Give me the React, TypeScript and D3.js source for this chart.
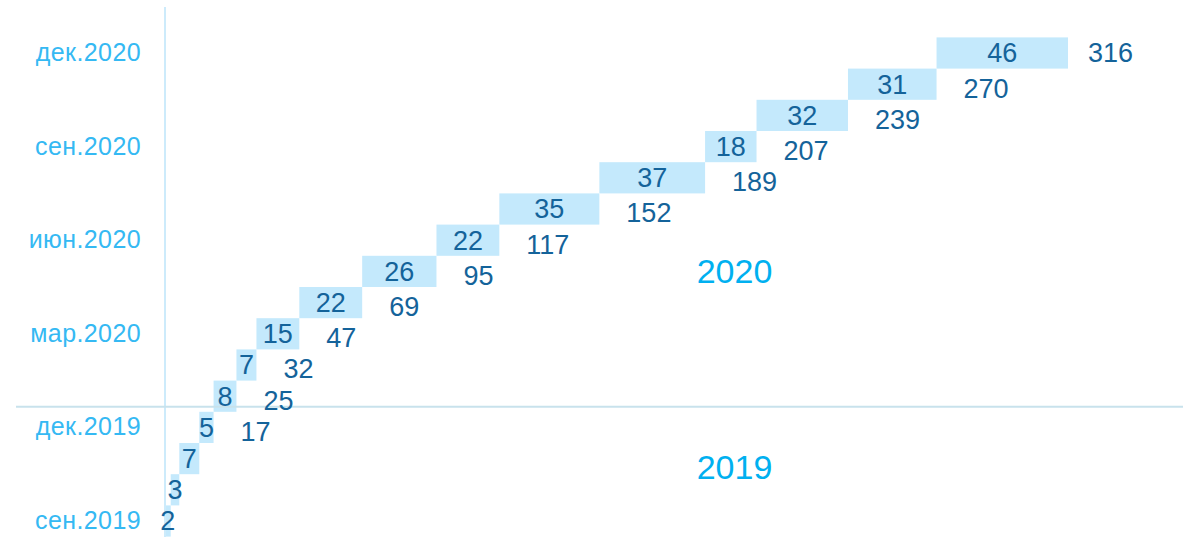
import React, { useRef, useEffect } from 'react';
import * as d3 from 'd3';

// months from bottom (сен.2019) to top (дек.2020)
const months = [
  'сен.2019', 'окт.2019', 'ноя.2019', 'дек.2019',
  'янв.2020', 'фев.2020', 'мар.2020', 'апр.2020', 'май.2020', 'июн.2020',
  'июл.2020', 'авг.2020', 'сен.2020', 'окт.2020', 'ноя.2020', 'дек.2020',
];
// monthly increments
const increments = [2, 3, 7, 5, 8, 7, 15, 22, 26, 22, 35, 37, 18, 32, 31, 46];
const tickMonths = ['сен.2019', 'дек.2019', 'мар.2020', 'июн.2020', 'сен.2020', 'дек.2020'];
// running totals are only labelled from this month on
const firstTotalLabel = 'дек.2019';
const yearSplitMonth = 'янв.2020';
const yearLabels = [
  { year: '2020', month: 'май.2020' },
  { year: '2019', month: 'ноя.2019' },
];

const FONT = "'Liberation Sans', Arial, sans-serif";

const App: React.FC = () => {
  const svgRef = useRef<SVGSVGElement>(null);

  useEffect(() => {
    if (!svgRef.current) return;
    const svg = d3.select(svgRef.current);
    svg.selectAll('*').remove();

    const width = 1191;
    const height = 537;

    const totals = Array.from(d3.cumsum(increments));
    const rows = months.map((m, i) => ({
      month: m,
      inc: increments[i],
      start: totals[i] - increments[i],
      end: totals[i],
      index: i,
    }));

    const xScale = d3
      .scaleLinear()
      .domain([0, d3.max(totals)!])
      .range([165, 1068]);

    const yScale = d3
      .scaleBand<string>()
      .domain(months)
      .range([536.6, 37.4])
      .padding(0);
    const bw = yScale.bandwidth();
    const yc = (m: string) => yScale(m)! + bw / 2;

    svg.attr('width', width).attr('height', height);

    // bars
    svg
      .selectAll('.bar')
      .data(rows)
      .enter()
      .append('rect')
      .attr('class', 'bar')
      .attr('x', (d) => xScale(d.start))
      .attr('width', (d) => xScale(d.end) - xScale(d.start))
      .attr('y', (d) => yScale(d.month)!)
      .attr('height', bw)
      .attr('fill', '#c4e9fc');

    // vertical axis line
    svg
      .append('line')
      .attr('x1', xScale(0))
      .attr('x2', xScale(0))
      .attr('y1', 7)
      .attr('y2', height)
      .attr('stroke', '#cdebfb')
      .attr('stroke-width', 2);

    // year separator
    const sepY = yScale(yearSplitMonth)! + bw - 5;
    svg
      .append('line')
      .attr('x1', 16)
      .attr('x2', 1183)
      .attr('y1', sepY)
      .attr('y2', sepY)
      .attr('stroke', '#c8e2ec')
      .attr('stroke-width', 2);

    // month axis
    const axis = svg
      .append('g')
      .attr('transform', 'translate(153,0)')
      .call(
        d3
          .axisLeft(yScale)
          .tickValues(tickMonths)
          .tickSize(0)
          .tickPadding(12)
      );
    axis.select('.domain').remove();
    axis
      .selectAll('text')
      .attr('fill', '#35b9f3')
      .attr('font-family', FONT)
      .attr('font-size', 25)
      .attr('letter-spacing', 0.4);

    // increment labels
    svg
      .selectAll('.inc')
      .data(rows)
      .enter()
      .append('text')
      .attr('class', 'inc')
      .attr('x', (d) => (xScale(d.start) + xScale(d.end)) / 2)
      .attr('y', (d) => yc(d.month))
      .attr('dy', '0.35em')
      .attr('text-anchor', 'middle')
      .attr('font-family', FONT)
      .attr('font-size', 27)
      .attr('fill', '#14639a')
      .text((d) => d.inc);

    // running total labels
    const firstIdx = months.indexOf(firstTotalLabel);
    const lastIdx = months.length - 1;
    svg
      .selectAll('.total')
      .data(rows.filter((d) => d.index >= firstIdx))
      .enter()
      .append('text')
      .attr('class', 'total')
      .attr('x', (d) => xScale(d.end) + (d.index === lastIdx ? 20 : 27))
      .attr('y', (d) => yc(d.month) + (d.index === lastIdx ? 0 : 4))
      .attr('dy', '0.35em')
      .attr('text-anchor', 'start')
      .attr('font-family', FONT)
      .attr('font-size', 27)
      .attr('fill', '#14639a')
      .text((d) => d.end);

    // year labels
    svg
      .selectAll('.year')
      .data(yearLabels)
      .enter()
      .append('text')
      .attr('class', 'year')
      .attr('x', xScale(200) - 2)
      .attr('y', (d) => yc(d.month) + (d.year === '2019' ? 8 : 0))
      .attr('dy', '0.35em')
      .attr('text-anchor', 'middle')
      .attr('font-family', FONT)
      .attr('font-size', 34)
      .attr('fill', '#00b0f0')
      .text((d) => d.year);
  }, []);

  return <svg ref={svgRef} style={{ position: 'absolute', left: 0, top: 0 }}></svg>;
};

export default App;
